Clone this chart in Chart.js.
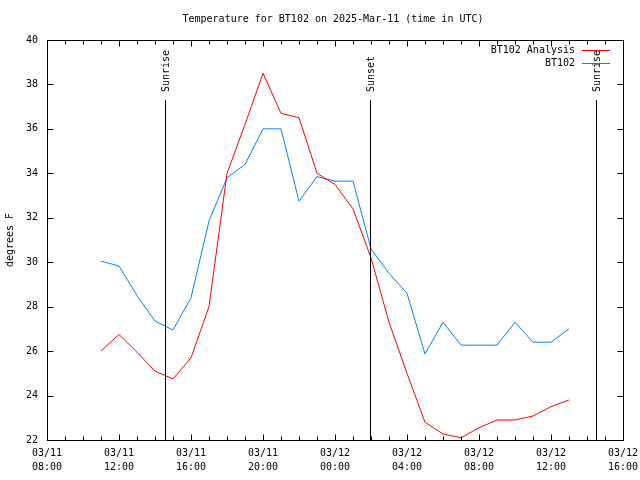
<!DOCTYPE html>
<html>
<head>
<meta charset="utf-8">
<script src="https://cdn.jsdelivr.net/npm/chart.js@4.4.1/dist/chart.umd.min.js"></script>
<style>
  html, body { margin: 0; padding: 0; background: #fff; }
</style>
</head>
<body>
<canvas id="temp-chart" width="640" height="480"></canvas>
<script>
// hours since 03/11 08:00 UTC
const hours = [3, 4, 5, 6, 7, 8, 9, 10, 11, 12, 13, 14, 15, 16, 17, 18, 19, 20, 21, 22, 23, 24, 25, 26, 27, 28, 29];
const analysisTemps = [26.0, 26.75, 25.95, 25.1, 24.75, 25.7, 28.0, 34.0, 36.2, 38.5, 36.7, 36.5, 34.0, 33.5, 32.4, 30.2,
                       27.3, 25.0, 22.8, 22.27, 22.1, 22.55, 22.9, 22.9, 23.08, 23.5, 23.8];
const observedTemps = [30.05, 29.83, 28.5, 27.35, 26.95, 28.4, 31.85, 33.8, 34.4, 36.0, 36.0, 32.75, 33.85, 33.65, 33.65, 30.6,
                       29.5, 28.6, 25.87, 27.3, 26.27, 26.27, 26.27, 27.3, 26.4, 26.4, 27.0];

const xTickLabels = [["03/11", "08:00"], ["03/11", "12:00"], ["03/11", "16:00"], ["03/11", "20:00"], ["03/12", "00:00"],
                     ["03/12", "04:00"], ["03/12", "08:00"], ["03/12", "12:00"], ["03/12", "16:00"]];

const eventNames = ["Sunrise", "Sunset", "Sunrise"];
const eventHours = [6.55, 17.95, 30.5];

const monoFont = "'DejaVu Sans Mono', monospace";
const canvas = document.getElementById("temp-chart");

//draws frame, mirrored ticks, sun lines, title and legend the gnuplot way
const gnuplotBits = {
  id: "gnuplotBits",
  afterDraw(chart) {
    const ctx = chart.ctx;
    const area = chart.chartArea;
    const xs = chart.scales.x;
    const ys = chart.scales.y;
    ctx.save();
    ctx.strokeStyle = "#000";
    ctx.fillStyle = "#000";
    ctx.lineWidth = 1;

    // sun lines
    ctx.font = "10px " + monoFont;
    eventHours.forEach((h, i) => {
      const px = Math.round(xs.getPixelForValue(h)) + 0.5;
      ctx.beginPath();
      ctx.moveTo(px, 100);
      ctx.lineTo(px, area.bottom);
      ctx.stroke();
      ctx.save();
      ctx.translate(px + 1, 92);
      ctx.rotate(-Math.PI / 2);
      ctx.textAlign = "left";
      ctx.textBaseline = "middle";
      ctx.fillText(eventNames[i], 0, 0);
      ctx.restore();
    });

    // frame
    const l = Math.round(area.left) + 0.5, r = Math.round(area.right) + 0.5;
    const t = Math.round(area.top) + 0.5, b = Math.round(area.bottom) + 0.5;
    ctx.strokeRect(l, t, r - l, b - t);

    // x ticks, every hour, bigger every 4
    ctx.beginPath();
    for (let h = 0; h <= 32; h++) {
      const px = Math.round(xs.getPixelForValue(h)) + 0.5;
      const len = h % 4 === 0 ? 6 : 4;
      ctx.moveTo(px, b); ctx.lineTo(px, b - len);
      ctx.moveTo(px, t); ctx.lineTo(px, t + len);
    }
    // y ticks
    for (let v = 22; v <= 40; v += 2) {
      const py = Math.round(ys.getPixelForValue(v)) + 0.5;
      ctx.moveTo(l, py); ctx.lineTo(l + 6, py);
      ctx.moveTo(r, py); ctx.lineTo(r - 6, py);
    }
    ctx.stroke();

    // title
    ctx.textAlign = "center";
    ctx.textBaseline = "middle";
    ctx.fillText("Temperature for BT102 on 2025-Mar-11 (time in UTC)", 333, 19);

    // y axis title
    ctx.save();
    ctx.translate(10, 240);
    ctx.rotate(-Math.PI / 2);
    ctx.fillText("degrees F", 0, 0);
    ctx.restore();

    // legend
    ctx.textAlign = "right";
    chart.data.datasets.forEach((ds, i) => {
      const ly = 50 + i * 13;
      ctx.fillStyle = "#000";
      ctx.fillText(ds.label, 575, ly);
      ctx.strokeStyle = ds.borderColor;
      ctx.beginPath();
      ctx.moveTo(582, ly + 0.5);
      ctx.lineTo(610, ly + 0.5);
      ctx.stroke();
    });
    ctx.restore();
  }
};

const tempChart = new Chart(canvas, {
  type: "line",
  data: {
    datasets: [{
      label: "BT102 Analysis",
      data: hours.map((h, i) => ({ x: h, y: analysisTemps[i] })),
      borderColor: "#ff0000",
      borderWidth: 1,
      pointRadius: 0,
      tension: 0,
      fill: false
    }, {
      label: "BT102",
      data: hours.map((h, i) => ({ x: h, y: observedTemps[i] })),
      borderColor: "#0080ff",
      borderWidth: 1,
      pointRadius: 0,
      tension: 0,
      fill: false
    }]
  },
  options: {
    responsive: false,
    animation: false,
    devicePixelRatio: 1,
    layout: { padding: { top: 40, right: 17, left: 0, bottom: 0 } },
    scales: {
      x: {
        type: "linear",
        min: 0,
        max: 32,
        grid: { display: false, drawTicks: false },
        border: { display: false },
        ticks: {
          stepSize: 4,
          autoSkip: false,
          maxRotation: 0,
          padding: 6,
          color: "#000",
          font: { family: monoFont, size: 10, lineHeight: 1.4 },
          callback: v => xTickLabels[v / 4]
        },
        afterFit: s => { s.height = 40; s.paddingLeft = 0; s.paddingRight = 0; }
      },
      y: {
        min: 22,
        max: 40,
        grid: { display: false, drawTicks: false },
        border: { display: false },
        ticks: {
          stepSize: 2,
          padding: 9,
          color: "#000",
          font: { family: monoFont, size: 10 }
        },
        afterFit: s => { s.width = 47; s.paddingTop = 0; s.paddingBottom = 0; }
      }
    },
    plugins: {
      legend: { display: false },
      title: { display: false },
      tooltip: { enabled: false }
    }
  },
  plugins: [gnuplotBits]
});
</script>
</body>
</html>
